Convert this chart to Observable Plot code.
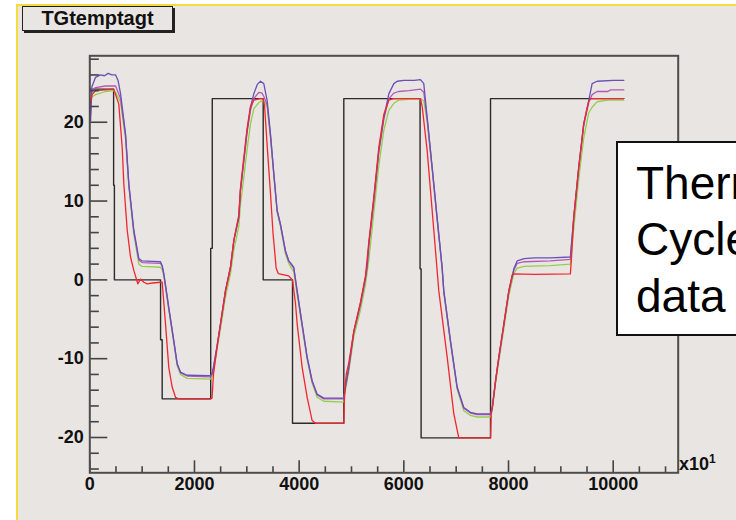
<!DOCTYPE html>
<html><head><meta charset="utf-8">
<script src="https://cdn.jsdelivr.net/npm/d3@7"></script>
<script src="https://cdn.jsdelivr.net/npm/@observablehq/plot@0.6"></script>
<style>
html,body{margin:0;padding:0;background:#fff;overflow:hidden;}
#wrap{position:relative;width:736px;height:520px;overflow:hidden;background:#fff;font-family:"Liberation Sans",Arial,Helvetica,sans-serif;}
#pad{position:absolute;left:16px;top:4px;width:800px;height:600px;background:#e9e5e2;border-left:2.5px solid #f3dc3c;border-top:2.5px solid #f3dc3c;}
#chart{position:absolute;left:0;top:0;}
#title{position:absolute;left:22px;top:6px;width:151px;height:25px;box-sizing:border-box;border:1px solid #222;box-shadow:2px 2px 0 #222;background:#e9e5e2;font-weight:bold;font-size:20px;line-height:23px;text-align:center;color:#111;}
#note{position:absolute;left:616px;top:141px;width:200px;height:195px;box-sizing:border-box;background:#fff;border:2px solid #111;}
.nl{position:absolute;left:636px;font-size:46px;line-height:46px;color:#000;white-space:nowrap;}
#exp{position:absolute;left:679px;top:455px;font-size:18px;line-height:18px;font-weight:bold;color:#111;white-space:nowrap;}
#exp sup{font-size:12px;vertical-align:7px;line-height:0;}
</style></head>
<body>
<div id="wrap">
<div id="pad"></div>
<div id="chart"></div>
<div id="title">TGtemptagt</div>
<div id="exp">x10<sup>1</sup></div>
<div id="note"></div>
<div class="nl" style="top:160px">Thermal</div>
<div class="nl" style="top:216px">Cycle</div>
<div class="nl" style="top:273px">data</div>
</div>
<script>
// tick values
const xMajor = [0, 2000, 4000, 6000, 8000, 10000];
const xMinor = [500, 1000, 1500, 2500, 3000, 3500, 4500, 5000, 5500, 6500, 7000, 7500, 8500, 9000, 9500, 10500, 11000];
const yMajor = [-20, -10, 0, 10, 20];
const yMinor = [-24, -22, -18, -16, -14, -12, -8, -6, -4, -2, 2, 4, 6, 8, 12, 14, 16, 18, 22, 24, 26, 28];

// setpoint (black step)
const setpoint = [[0,24.2],[455,24.2],[455,12],[470,12],[470,0],[1352,0],[1352,-7.6],[1383,-7.6],[1383,-15.1],[2310,-15.1],[2310,4],[2340,4],[2340,23],[3313,23],[3313,0],[3873,0],[3873,-18.2],[4853,-18.2],[4853,23],[6310,23],[6310,1.4],[6330,1.4],[6330,-20.05],[7656,-20.05],[7656,23],[10203,23]];

// violet sensor
const violet = [[15,20.2],[40,24.5],[110,25.7],[200,26.0],[280,25.9],[350,26.2],[420,26.0],[493,26.0],[540,25.3],[588,23.6],[683,18.5],[746,12.2],[841,6.3],[937,2.7],[1000,2.4],[1200,2.35],[1351,2.3],[1383,1.8],[1414,0.8],[1509,-3.5],[1605,-7.7],[1669,-10.6],[1732,-11.7],[1860,-12.1],[2306,-12.15],[2335,-11.9],[2363,-11.1],[2427,-8.55],[2497,-5.6],[2592,-1.4],[2688,1.6],[2752,5],[2847,7.9],[2878,11.3],[2942,15.1],[3005,18.9],[3070,21.9],[3133,23.6],[3200,24.8],[3261,25.2],[3324,24.9],[3389,22.75],[3452,18.5],[3516,13.5],[3579,8.8],[3642,7.1],[3738,3.7],[3800,2.45],[3897,1.6],[3962,-1.4],[4057,-5.6],[4153,-9.8],[4248,-12.8],[4344,-14.5],[4470,-15.0],[4853,-15.0],[4885,-13.5],[4949,-11.1],[5045,-6.5],[5172,-3.0],[5267,0.3],[5300,1.8],[5331,4.5],[5426,10.1],[5522,16.4],[5618,20.6],[5713,23.6],[5809,24.9],[5873,25.2],[6000,25.3],[6200,25.3],[6318,25.4],[6381,24.9],[6446,20.6],[6541,14.3],[6636,7.9],[6732,1.6],[6764,-1.4],[6891,-7.7],[7019,-13.6],[7145,-16.2],[7273,-16.8],[7400,-17.0],[7656,-17.0],[7690,-16.2],[7752,-12.8],[7815,-9.8],[7911,-5.6],[8006,-1.4],[8101,1.4],[8165,2.4],[8300,2.7],[8500,2.8],[8800,2.8],[9182,2.9],[9246,7.9],[9342,14.3],[9437,19.8],[9533,22.75],[9597,24.9],[9693,25.2],[10000,25.3],[10203,25.3]];

// magenta sensor
const magenta = [[15,21],[40,24.0],[110,24.4],[300,24.6],[493,24.6],[588,23.0],[683,18.3],[746,12.0],[841,6.1],[937,2.5],[1000,2.2],[1351,2.1],[1383,1.7],[1414,0.7],[1509,-3.6],[1605,-7.8],[1669,-10.7],[1732,-11.8],[1860,-12.2],[2306,-12.3],[2335,-12.0],[2363,-11.1],[2427,-8.55],[2497,-5.6],[2592,-1.4],[2688,1.6],[2752,5],[2847,7.9],[2878,11.3],[2942,15.0],[3005,18.7],[3070,21.5],[3133,23.0],[3230,23.8],[3290,23.7],[3324,23.3],[3389,22.2],[3452,18.3],[3516,13.4],[3579,8.8],[3642,7.0],[3738,3.6],[3800,2.4],[3897,1.5],[3962,-1.5],[4057,-5.7],[4153,-9.9],[4248,-12.9],[4344,-14.6],[4470,-15.1],[4853,-15.1],[4885,-13.6],[4949,-11.2],[5045,-6.6],[5172,-3.1],[5267,0.2],[5300,1.7],[5331,4.4],[5426,10.0],[5522,16.2],[5618,20.4],[5713,23.0],[5809,23.7],[5900,23.9],[6100,24.0],[6318,24.2],[6381,23.8],[6446,20.4],[6541,14.2],[6636,7.8],[6732,1.5],[6764,-1.5],[6891,-7.8],[7019,-13.7],[7145,-16.3],[7273,-16.9],[7400,-17.1],[7656,-17.1],[7690,-16.3],[7752,-12.9],[7815,-9.9],[7911,-5.7],[8006,-1.5],[8101,1.2],[8165,2.1],[8300,2.3],[8800,2.4],[9182,2.6],[9246,7.8],[9342,14.2],[9437,19.6],[9533,22.5],[9597,23.5],[9693,23.9],[9900,23.9],[9950,24.1],[10203,24.1]];

// green sensor
const green = [[15,22.5],[40,23.2],[110,23.5],[300,23.9],[450,24.0],[493,23.8],[588,22.5],[683,17.8],[746,11.8],[841,5.8],[937,2.0],[1000,1.7],[1351,1.6],[1383,1.3],[1414,0.5],[1509,-3.8],[1605,-8.0],[1669,-10.9],[1732,-12.0],[1860,-12.5],[2306,-12.6],[2335,-12.3],[2363,-11.5],[2427,-9.0],[2497,-6.2],[2592,-2.2],[2688,0.8],[2752,3.8],[2847,6.8],[2878,9.5],[2942,13.0],[3005,16.5],[3070,19.8],[3133,21.7],[3230,22.5],[3313,22.8],[3389,21.9],[3452,18.0],[3516,13.2],[3579,8.6],[3642,6.8],[3738,3.3],[3800,2.1],[3897,1.0],[3962,-1.9],[4057,-6.0],[4153,-10.1],[4248,-13.1],[4344,-14.9],[4470,-15.4],[4853,-15.5],[4885,-14.0],[4949,-11.6],[5045,-7.2],[5172,-3.8],[5267,-0.6],[5331,2.5],[5426,8.5],[5522,14.5],[5618,19.0],[5713,21.5],[5809,22.4],[5900,22.8],[6100,22.9],[6318,23.0],[6381,22.7],[6446,20.0],[6541,14.0],[6636,7.6],[6732,1.3],[6764,-1.7],[6891,-8.0],[7019,-13.9],[7145,-16.6],[7273,-17.2],[7400,-17.4],[7656,-17.4],[7690,-16.5],[7752,-13.2],[7815,-10.3],[7911,-6.2],[8006,-2.0],[8101,0.8],[8165,1.5],[8300,1.7],[8800,1.8],[9182,2.0],[9246,6.5],[9342,12.8],[9437,18.0],[9533,21.2],[9597,21.9],[9693,22.6],[9900,22.8],[10203,22.8]];

// red sensor
const red = [[15,22.5],[40,23.5],[110,24.0],[300,24.1],[458,24.2],[554,22.3],[619,16.8],[650,12.2],[715,6.3],[778,2.9],[841,1.2],[917,-0.5],[969,0.1],[1033,-0.3],[1097,-0.5],[1200,-0.4],[1351,-0.3],[1383,-0.3],[1446,-5.55],[1509,-11.1],[1574,-13.6],[1637,-14.9],[1700,-15.1],[2306,-15.1],[2335,-15.0],[2363,-12.0],[2427,-8.8],[2497,-5.6],[2592,-1.4],[2688,1.6],[2752,5],[2847,8.2],[2878,11.6],[2942,15.5],[3005,19.2],[3070,22.0],[3133,22.8],[3250,23.0],[3313,23.0],[3340,22.0],[3389,17.0],[3452,11.0],[3500,6.0],[3560,1.5],[3600,0.8],[3800,0.5],[3873,0.0],[3930,-3.0],[3962,-5.6],[4057,-11.1],[4153,-14.9],[4248,-17.85],[4312,-18.2],[4853,-18.2],[4870,-14.0],[4900,-12.0],[4949,-10.5],[5045,-6.5],[5172,-2.8],[5267,0.5],[5331,4.8],[5426,10.5],[5522,16.8],[5618,21.0],[5713,22.8],[5800,23.0],[6318,23.0],[6350,22.0],[6446,16.4],[6510,11.3],[6605,3.7],[6668,-1.4],[6828,-9.8],[6955,-17.0],[7050,-20.05],[7656,-20.05],[7670,-17.0],[7690,-16.2],[7752,-12.8],[7815,-9.8],[7911,-5.6],[8006,-1.4],[8070,0.6],[8101,0.76],[8500,0.7],[9182,0.76],[9200,2.5],[9246,7.9],[9342,14.3],[9437,19.8],[9533,22.75],[9580,23.0],[10203,23.0]];

const xDomain = [0, 11242];
const yDomain = [-24.48, 28.43];
const frameW = 588.4, frameH = 417;
const font = "'Liberation Sans', Arial, Helvetica, sans-serif";
const fx = d => d[0], fy = d => d[1];

const chart = Plot.plot({
  width: 736, height: 520,
  marginLeft: 89.3, marginRight: 58.3, marginTop: 55.3, marginBottom: 47.7,
  x: {domain: xDomain, label: null},
  y: {domain: yDomain, label: null},
  style: {background: "transparent", fontFamily: font, overflow: "visible"},
  marks: [
    Plot.line(setpoint, {x: fx, y: fy, stroke: "#2b2b2b", strokeWidth: 1.4}),
    Plot.line(green, {x: fx, y: fy, stroke: "#93cf4c", strokeWidth: 1.3}),
    Plot.line(magenta, {x: fx, y: fy, stroke: "#b05ab5", strokeWidth: 1.3}),
    Plot.line(violet, {x: fx, y: fy, stroke: "#6a4fb8", strokeWidth: 1.3}),
    Plot.line(red, {x: fx, y: fy, stroke: "#f2262e", strokeWidth: 1.3}),
    Plot.tickY(yMajor, {y: d => d, insetRight: frameW - 18, stroke: "#444", strokeWidth: 1.6}),
    Plot.tickY(yMinor, {y: d => d, insetRight: frameW - 9.5, stroke: "#444", strokeWidth: 1.6}),
    Plot.tickX(xMajor, {x: d => d, insetTop: frameH - 12, stroke: "#444", strokeWidth: 1.6}),
    Plot.tickX(xMinor, {x: d => d, insetTop: frameH - 6, stroke: "#444", strokeWidth: 1.6}),
    Plot.axisY(yMajor, {tickSize: 0, tickPadding: 6, tickFormat: d => String(d), fontSize: 18, fontWeight: "bold", fill: "#111"}),
    Plot.axisX(xMajor, {tickSize: 0, tickPadding: 4, tickFormat: d => String(d), fontSize: 18, fontWeight: "bold", fill: "#111"}),
    Plot.frame({stroke: "#4d4d4d", strokeWidth: 2})
  ]
});
document.getElementById("chart").appendChild(chart);
</script>
</body></html>
